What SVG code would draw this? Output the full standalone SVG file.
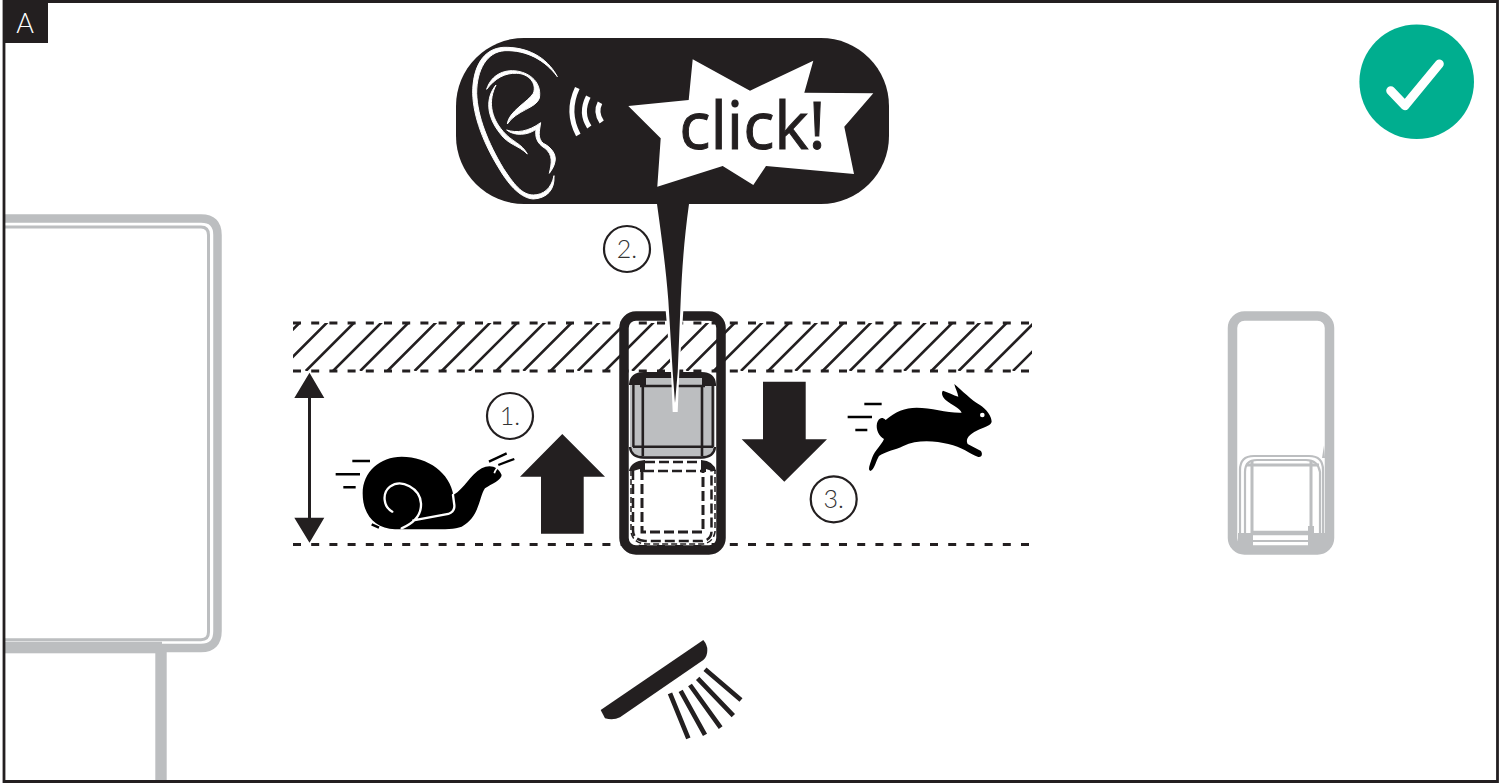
<svg xmlns="http://www.w3.org/2000/svg" width="1506" height="783" viewBox="0 0 1506 783">
<style>
.k{fill:#231f20}.g{fill:none;stroke:#bcbec0}.gf{fill:#bcbec0}
.dash{fill:none;stroke:#231f20;stroke-width:3;stroke-dasharray:8 10.2}
.hatch{stroke:#231f20;stroke-width:2.600}
.num{fill:#fff;stroke:#231f20;stroke-width:2.200}
.t{font-family:Lato,"Open Sans",sans-serif;font-weight:300;fill:#333;font-size:25px;text-anchor:middle}
.sp{stroke:#000;stroke-width:7.500;fill:none}
.wh{fill:none;stroke:#fff}
.btn{fill:none;stroke:#231f20}
</style>
<defs>
<clipPath id="band"><rect x="293" y="323" width="739" height="48"/></clipPath>
</defs>
<rect width="1506" height="783" fill="#fff"/>
<g id="housing-left">
<path class="g" stroke-width="8.500" d="M4 218.500H201Q217.500 218.500 217.500 235V631Q217.500 648 201 648H4"/>
<path class="g" stroke-width="3" d="M4 227H201Q208.500 227 208.500 235V632Q208.500 639.700 201 639.700H4"/>
<rect class="gf" x="4" y="641.700" width="158" height="11.600"/>
<rect class="gf" x="155.300" y="645" width="11.400" height="136"/>
</g>
<g id="hatch-zone">
<g clip-path="url(#band)">
<path class="hatch" d="M251.400 371l50-50M278.600 371l50-50M305.800 371l50-50M333 371l50-50M360.200 371l50-50M387.400 371l50-50M414.600 371l50-50M441.800 371l50-50M469 371l50-50M496.200 371l50-50M523.400 371l50-50M550.600 371l50-50M577.800 371l50-50M605 371l50-50M632.200 371l50-50M659.400 371l50-50M686.600 371l50-50M713.800 371l50-50M741 371l50-50M768.200 371l50-50M795.400 371l50-50M822.600 371l50-50M849.800 371l50-50M877 371l50-50M904.200 371l50-50M931.400 371l50-50M958.600 371l50-50M985.800 371l50-50M1013 371l50-50"/>
</g>
<path class="dash" d="M293 323H1032M293 371H1032M293 544.500H1032"/>
</g>
<g id="button-down">
<rect x="630" y="459" width="86" height="86" rx="12" fill="#fff"/>
<path class="btn" stroke-width="2.500" stroke-dasharray="10 4" d="M645 462H702M644 471H702M633 470V530Q633 540 645 541H702Q712 540 711.500 530V470M626 0"/>
<path class="btn" stroke-width="1.500" stroke-dasharray="6 3" d="M631 470V532Q633 543 646 544H702Q713 543 715 532V470"/>
<path class="btn" stroke-width="3" stroke-dasharray="10 4" d="M642 470V532H703V470"/>
<path class="k" d="M629 471Q631 461 645 460V472H640V469L633 471Z M716 471Q714 461 701 460V472H706V469L712 471Z"/>
</g>
<g id="button-up">
<path class="gf" d="M630 385Q630 372 644 372H701Q715 372 715 385V445Q715 459 701 459H644Q630 459 630 445Z"/>
<path class="btn" stroke-width="2.400" d="M630 447Q631 457.500 644 457.500H701Q714 457.500 715 447M633.400 385V447M712.700 385V447"/>
<path class="btn" stroke-width="1" stroke="#fff" d="M631.500 455"/>
<path class="k" d="M629 386V384Q630 372 644 372H701Q715 372 716 384V386H702V378H646V386H642V385H629Z"/>
<path class="btn" stroke-width="2.600" d="M642.800 385V456M702 385V456M640 386H705M633 446.700H713M646 376H700"/>
</g>
<g id="device-active">
<rect x="624" y="316" width="97" height="234" rx="12" fill="none" stroke="#231f20" stroke-width="9.500"/>
</g>
<g id="device-rest">
<rect class="g" x="1232.500" y="316" width="97" height="234" rx="12" stroke-width="9.500"/>
<path class="g" stroke-width="2.200" d="M1240 540V470Q1240 456 1254 456H1309Q1323 456 1323 470V540"/>
<path class="g" stroke-width="2.200" d="M1245 540V472Q1245 460 1257 460H1306Q1318 460 1320 472V540"/>
<path class="g" stroke-width="3" d="M1252 461V535M1311 461V530M1246 465H1319"/>
<path class="g" stroke-width="4.500" d="M1252 533H1312"/>
<path class="g" stroke-width="1.800" d="M1252 541H1310"/>
<path class="gf" d="M1238 533H1253V546H1238ZM1308 526H1314V533H1325V546H1308Z"/>
<path class="gf" d="M1322 458L1324 445.500L1325 458Z"/>
</g>
<g id="sensor" transform="translate(590 630) scale(.3333)">
<path class="k" d="M340 30Q352 45 352 60Q352 80 340 90L90 262Q70 272 45 265L32 240Z"/>
<path stroke="#231f20" stroke-width="14" d="M240 190L295 325M272 183L345 315M300 165L392 293M323 145L430 257M345 118L453 210"/>
</g>
<g id="range-arrow">
<path class="k" d="M309.500 372.700L324.300 398H311V517.700H324.300L309.500 542.700L294.300 517.700H308V398H294.300Z"/>
</g>
<g id="arrow-up"><path class="k" d="M562.300 434L605 476.700H583.700V533.700H541V476.700H520Z"/></g>
<g id="arrow-down"><path class="k" d="M763 381.700H805.700V439.300H827L784.300 481.700L741.700 439.300H763Z"/></g>
<g id="snail" transform="translate(285 360) scale(.3333)">
<path d="M233 400C233 335 285 290 350 290C430 290 495 340 505 405C540 385 555 345 590 325C615 312 640 320 650 345C650 360 620 372 600 385C582 410 585 470 530 500C510 508 480 507 440 508H330C270 505 233 465 233 400Z"/>
<path class="wh" stroke-width="7" stroke-linecap="round" d="M322 455C295 440 290 400 315 380C350 355 405 385 408 430C410 465 385 490 350 505M385 481L490 462Q510 455 508 435L504 405"/>
<path class="sp" d="M202 303H255M152 343H225M175 382H212M260 493L282 503"/>
<path stroke="#000" stroke-width="7" fill="none" d="M612 305L665 280"/>
<path stroke="#fff" stroke-width="5" fill="none" d="M628 340Q632 325 645 318"/>
<path stroke="#000" stroke-width="7" fill="none" d="M640 315L688 297"/>
</g>
<g id="rabbit" transform="translate(735 370) scale(.3333)">
<path d="M658 42C680 60 710 92 735 105C755 118 770 140 770 155C768 168 745 172 725 182C705 192 690 205 698 222L738 243C745 255 738 264 728 260C705 252 680 230 640 222C600 212 545 208 505 228C480 240 450 245 432 258C422 275 418 300 406 303C398 300 404 285 412 262C420 240 440 225 447 207C432 198 422 180 426 160C430 145 440 138 452 150C480 125 510 113 545 113C590 113 640 130 680 128C675 115 650 105 632 90C622 80 618 68 624 62C640 68 655 75 670 80C668 65 660 55 658 42Z"/>
<circle cx="742" cy="135" r="7" fill="#fff"/>
<path class="sp" d="M388 102H440M338 141H411M361 180H397"/>
</g>
<g id="bubble">
<path fill="#fff" d="M665.700 311L671 372L672.700 412H677.700L679.300 372L683.300 311Z"/>
<path class="k" d="M657 204H689C684 240 682 270 680.700 300L677.700 372L675 403L672.700 372L668.300 300C666 270 662 240 657 204Z"/>
<rect class="k" x="456" y="38" width="433" height="166" rx="68"/>
<path fill="#fff" d="M692.700 59.300L750 90.700L813.300 60.700L804.300 92.700L873.300 93.300L844.300 126.700L854 174L766 166L753.300 185L722.700 166L657.300 186.700L660.700 138.300L628.300 106L688.700 100Z"/>
<text x="752.500" y="149" font-family="'Open Sans','Noto Sans',sans-serif" font-size="65" fill="#231f20" stroke="#231f20" stroke-width="1" text-anchor="middle">click!</text>
<g transform="translate(450 30) scale(.3333)" fill="#fff" stroke="#fff" stroke-width="3">
<path d="M322 140C290 80 230 50 160 52C100 56 68 110 68 190C70 260 100 340 150 420C180 470 215 505 250 507C290 505 315 480 312 437C305 475 280 495 250 495C215 495 190 460 160 415C115 340 82 260 80 190C80 120 110 65 165 62C230 60 285 90 322 140Z"/>
<path d="M110 178C125 130 170 115 210 125C250 135 275 165 268 205C258 235 200 240 172 282C175 245 235 215 250 190C262 160 235 130 200 130C165 128 135 145 110 178Z"/>
<path d="M138 165C115 210 120 260 160 305C185 335 215 340 232 372C205 345 175 345 150 310C110 260 105 205 138 165Z"/>
<path d="M170 300C200 310 235 305 272 278C268 305 262 325 280 340C305 352 320 375 315 395C312 410 305 420 298 430C305 400 310 375 285 355C260 340 255 320 258 298C235 315 195 320 170 300Z"/>
</g>
<path fill="none" stroke="#fff" stroke-width="5" d="M577.300 88Q566 112 578.300 135M588.300 96.700Q580 113 589.300 127M600 102.700Q595 112 601.700 122"/>
</g>
<g id="step-1"><circle class="num" cx="510" cy="416" r="23"/><text class="t" x="510" y="425">1.</text></g>
<g id="step-2"><circle class="num" cx="627" cy="249" r="23"/><text class="t" x="627" y="258">2.</text></g>
<g id="step-3"><circle class="num" cx="833.700" cy="499.300" r="23"/><text class="t" x="833.700" y="508">3.</text></g>
<g id="check"><circle cx="1416.700" cy="81.700" r="57.300" fill="#00ae8f"/><path d="M1390.700 90.700L1405 105.700L1439.300 64" fill="none" stroke="#fff" stroke-width="9" stroke-linecap="round" stroke-linejoin="round"/></g>
<g id="frame">
<path fill="none" stroke="#231f20" stroke-width="2.800" d="M4 1.500H1497.500V781.500H4Z"/>
<rect class="k" x="3" y="3" width="45" height="40"/>
<text x="25" y="33" font-family="Lato,'Open Sans',sans-serif" font-weight="300" font-size="27" fill="#fff" text-anchor="middle">A</text>
</g>
</svg>
